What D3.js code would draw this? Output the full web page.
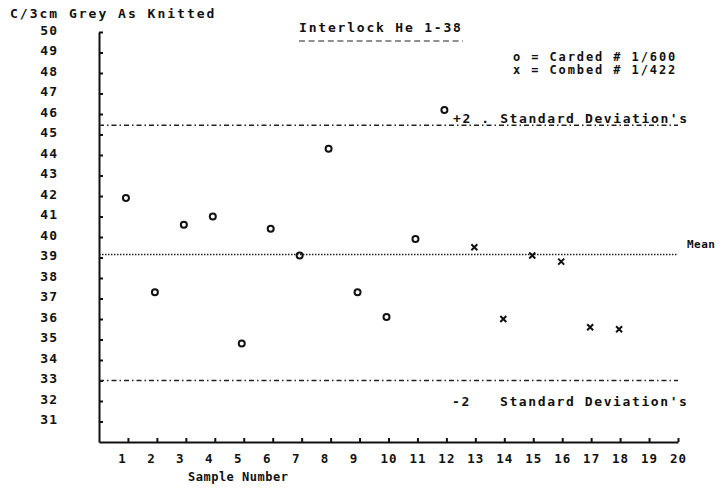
<!DOCTYPE html>
<html>
<head>
<meta charset="utf-8">
<script src="https://cdn.jsdelivr.net/npm/d3@7"></script>
<style>
  body { margin: 0; background: #fff; }
  text { font-family: "DejaVu Sans Mono", monospace; font-weight: bold; fill: #111; }
</style>
</head>
<body>
<div class="main"></div>
<script>
// data
const cardedSample = [1, 2, 3, 4, 5, 6, 7, 8, 9, 10, 11, 12];
const cardedValue  = [41.9, 37.3, 40.6, 41.0, 34.8, 40.4, 39.1, 44.3, 37.3, 36.1, 39.9, 46.2];
const combedSample = [13, 14, 15, 16, 17, 18];
const combedValue  = [39.5, 36.0, 39.1, 38.8, 35.6, 35.5];

const xTicks = [1, 2, 3, 4, 5, 6, 7, 8, 9, 10, 11, 12, 13, 14, 15, 16, 17, 18, 19, 20];
const yTicks = [31, 32, 33, 34, 35, 36, 37, 38, 39, 40, 41, 42, 43, 44, 45, 46, 47, 48, 49, 50];

const meanValue = 39.15;
const upperValue = 45.45;   // +2 SD
const lowerValue = 33.0;    // -2 SD

const width = 727, height = 489;

let svg = d3.select("div.main").append("svg")
  .attr("width", width)
  .attr("height", height);

let x = d3.scaleLinear().domain([0, 20]).range([99, 678]);
let y = d3.scaleLinear().domain([30, 50]).range([442, 32]);

// y axis, ticks pointing inward
let yAxis = svg.append("g")
  .attr("transform", "translate(" + x(0) + ",0)")
  .call(d3.axisLeft(y).tickValues(yTicks).tickSizeInner(-4).tickSizeOuter(0).tickPadding(41));
yAxis.select(".domain").attr("stroke-width", 2).attr("stroke", "#111");
yAxis.selectAll(".tick line").attr("stroke-width", 2).attr("stroke", "#111");
yAxis.selectAll(".tick text")
  .style("font-size", "13px")
  .attr("letter-spacing", "1")
  .attr("y", -2);

// x axis, ticks pointing up
let xAxis = svg.append("g")
  .attr("transform", "translate(0," + y(30) + ")")
  .call(d3.axisBottom(x).tickValues(xTicks).tickSizeInner(-4).tickSizeOuter(0).tickPadding(12));
xAxis.select(".domain").attr("stroke-width", 2).attr("stroke", "#111");
xAxis.selectAll(".tick line").attr("stroke-width", 2).attr("stroke", "#111");
xAxis.selectAll(".tick text")
  .style("font-size", "12.5px")
  .attr("letter-spacing", "1")
  .attr("x", d => d < 10 ? -6 : 0);

// reference lines
function refLine(v, dash, w) {
  svg.append("line")
    .attr("x1", x(0)).attr("x2", x(20))
    .attr("y1", y(v)).attr("y2", y(v))
    .attr("stroke", "#222")
    .attr("stroke-width", w)
    .attr("stroke-dasharray", dash);
}
refLine(upperValue, "5,3,1.5,3", 1.5);
refLine(lowerValue, "5,3,1.5,3", 1.5);
refLine(meanValue, "1.5,1.5", 1.5);

// carded points (o)
svg.selectAll("circle.carded")
  .data(cardedSample.map((s, i) => [s, cardedValue[i]]))
  .enter().append("circle")
  .attr("class", "carded")
  .attr("cx", d => x(d[0]) - 2)
  .attr("cy", d => y(d[1]))
  .attr("r", 3)
  .attr("fill", "none")
  .attr("stroke", "#111")
  .attr("stroke-width", 2);

// combed points (x)
svg.selectAll("path.combed")
  .data(combedSample.map((s, i) => [s, combedValue[i]]))
  .enter().append("path")
  .attr("class", "combed")
  .attr("d", d => {
    let cx = x(d[0]) - 1, cy = y(d[1]), r = 3;
    return "M" + (cx - r) + "," + (cy - r) + "L" + (cx + r) + "," + (cy + r) +
           "M" + (cx - r) + "," + (cy + r) + "L" + (cx + r) + "," + (cy - r);
  })
  .attr("stroke", "#111")
  .attr("stroke-width", 2);

// texts
svg.append("text")
  .attr("x", 10).attr("y", 18)
  .style("font-size", "13px").attr("letter-spacing", "2")
  .text("C/3cm Grey As Knitted");

svg.append("text")
  .attr("x", 299).attr("y", 32)
  .style("font-size", "13px").attr("letter-spacing", "1.8")
  .text("Interlock He 1-38");

svg.append("line")
  .attr("x1", 299).attr("x2", 463)
  .attr("y1", 41).attr("y2", 41)
  .attr("stroke", "#222").attr("stroke-width", 1.2)
  .attr("stroke-dasharray", "6,3.6");

svg.append("text")
  .attr("x", 513).attr("y", 61)
  .style("font-size", "12px").attr("letter-spacing", "1.9")
  .text("o = Carded # 1/600");
svg.append("text")
  .attr("x", 513).attr("y", 74)
  .style("font-size", "12px").attr("letter-spacing", "1.9")
  .text("x = Combed # 1/422");

svg.append("text")
  .attr("x", 453).attr("y", y(upperValue) - 2)
  .style("font-size", "13px").attr("letter-spacing", "1.6")
  .text("+2 . Standard Deviation's");

svg.append("text")
  .attr("x", 452).attr("y", 406)
  .style("font-size", "13px").attr("letter-spacing", "1.6")
  .text("-2");
svg.append("text")
  .attr("x", 500).attr("y", 406)
  .style("font-size", "13px").attr("letter-spacing", "1.6")
  .text("Standard Deviation's");

svg.append("text")
  .attr("x", 687).attr("y", y(meanValue) - 6)
  .style("font-size", "11px").attr("letter-spacing", "0.5")
  .text("Mean");

svg.append("text")
  .attr("x", 188).attr("y", 481)
  .style("font-size", "12px").attr("letter-spacing", "0.5")
  .text("Sample Number");
</script>
</body>
</html>
